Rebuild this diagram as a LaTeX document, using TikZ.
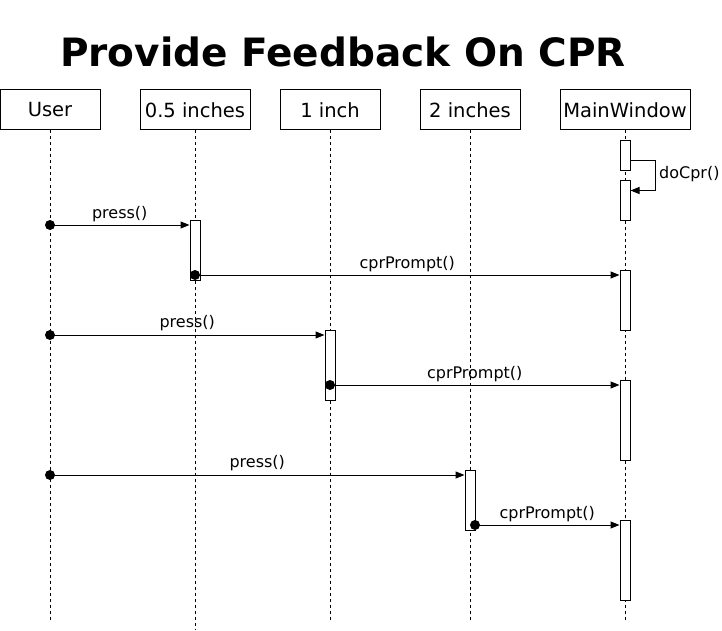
\documentclass[tikz,border=0pt]{standalone}
\usepackage{fontspec}
\setmainfont{DejaVu Sans}
\usetikzlibrary{arrows.meta}
\begin{document}
\begin{tikzpicture}[x=1pt,y=-1pt,
 head/.style={draw,line width=1pt,minimum width=#1,minimum height=40pt,inner sep=0,font=\fontsize{19.5}{23}\selectfont},
 act/.style={draw,fill=white,line width=1pt,minimum width=10pt,inner sep=0,anchor=north},
 life/.style={dash pattern=on 3pt off 3pt,line width=1pt},
 msg/.style={line width=1pt,-{Triangle[length=9pt,width=7pt]}},
 lbl/.style={font=\fontsize{16}{19}\selectfont,inner sep=0},
 dotm/.style={circle,fill,minimum size=10pt,inner sep=0}]
\useasboundingbox (0,0) rectangle (722,631);

\node[anchor=base,font=\fontsize{39}{45}\bfseries] (title) at (343,67) {Provide Feedback On CPR};

\node[head=100pt] (user) at (50,110) {User};
\node[head=110pt] (half) at (195,110) {0.5 inches};
\node[head=100pt] (one) at (330,110) {1 inch};
\node[head=100pt] (two) at (470,110) {2 inches};
\node[head=130pt] (mw) at (625,110) {MainWindow};

\coordinate (userend) at (50,620);
\coordinate (halfend) at (195,630);
\coordinate (oneend) at (330,620);
\coordinate (twoend) at (470,620);
\coordinate (mwend) at (625,620);
\draw[life] (user.south) -- (userend);
\draw[life] (half.south) -- (halfend);
\draw[life] (one.south) -- (oneend);
\draw[life] (two.south) -- (twoend);
\draw[life] (mw.south) -- (mwend);

\node[act,minimum height=30pt] (mw1) at (625,140) {};
\node[act,minimum height=40pt] (mw2) at (625,180) {};
\node[act,minimum height=60pt] (a05) at (195,220) {};
\node[act,minimum height=60pt] (mw3) at (625,270) {};
\node[act,minimum height=70pt] (a1) at (330,330) {};
\node[act,minimum height=80pt] (mw4) at (625,380) {};
\node[act,minimum height=60pt] (a2) at (470,470) {};
\node[act,minimum height=80pt] (mw5) at (625,520) {};

% self call
\draw[msg] ([yshift=-5pt]mw1.east) -- ++(25,0) |- ([yshift=10pt]mw2.east);
\node[lbl,anchor=west] (docpr) at (659,174) {doCpr()};

% messages
\coordinate (u1) at (50,225);
\coordinate (u2) at (50,335);
\coordinate (u3) at (50,475);
\coordinate (c1) at (195,275);
\coordinate (c2) at (330,385);
\coordinate (c3) at (475,525);

\draw[msg] (u1) -- node[lbl,anchor=base,yshift=7pt] {press()} (u1 -| a05.west);
\draw[msg] (c1) -- node[lbl,anchor=base,yshift=7pt] {cprPrompt()} (c1 -| mw3.west);
\draw[msg] (u2) -- node[lbl,anchor=base,yshift=8pt] {press()} (u2 -| a1.west);
\draw[msg] (c2) -- node[lbl,anchor=base,yshift=7pt] {cprPrompt()} (c2 -| mw4.west);
\draw[msg] (u3) -- node[lbl,anchor=base,yshift=8pt] {press()} (u3 -| a2.west);
\draw[msg] (c3) -- node[lbl,anchor=base,yshift=7pt] {cprPrompt()} (c3 -| mw5.west);

\foreach \p in {u1,u2,u3,c1,c2,c3} \node[dotm] at (\p) {};
\end{tikzpicture}
\end{document}
